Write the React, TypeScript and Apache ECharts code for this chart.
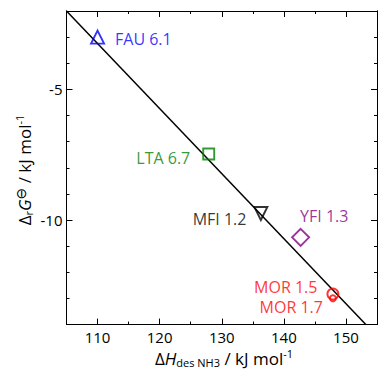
import React, { useEffect, useRef } from "react";
import * as echarts from "echarts";

// ---- data ----
const categories = ["FAU 6.1", "LTA 6.7", "MFI 1.2", "YFI 1.3", "MOR 1.5", "MOR 1.7"];
const dHdes = [110.0, 127.9, 136.3, 142.7, 147.9, 147.9];
const dGr = [-3.0, -7.47, -9.75, -10.66, -12.83, -12.99];
const fitX = [105, 153.2];
const fitY = [-2, -14];
const xTickLabels = [110, 120, 130, 140, 150];
const yTickLabels = [-5, -10];

// ---- styles (not data) ----
const FONT = "'Open Sans', 'Noto Sans', sans-serif";
const markerStyles = [
  { symbol: "triangle", size: 13, rotate: 0, color: "#0000FF", pos: "right", dist: 10, off: [0, 2] },
  { symbol: "rect", size: 11, rotate: 0, color: "#008000", pos: "left", dist: 12, off: [0, 4] },
  { symbol: "triangle", size: 13, rotate: 180, color: "#000000", pos: "left", dist: 7, off: [0, 5] },
  { symbol: "diamond", size: 17, rotate: 0, color: "#800080", pos: "right", dist: 0, off: [-10, -21] },
  { symbol: "circle", size: 11, rotate: 0, color: "#FF0000", pos: "left", dist: 9, off: [0, -7] },
  { symbol: "circle", size: 6, rotate: 0, color: "#FF0000", pos: "left", dist: 6, off: [0, 9] },
];

function xAxisDef(position: string, major: boolean, labels: boolean) {
  return {
    type: "value",
    position,
    min: 105,
    max: 155,
    ...(major ? { splitNumber: 5 } : { interval: 5 }),
    axisLine: { show: true, onZero: false, lineStyle: { color: "#000", width: 1 } },
    axisTick: { show: true, inside: true, length: major ? 6 : 3, lineStyle: { color: "#000", width: 1 } },
    axisLabel: labels
      ? {
          show: true,
          formatter: (v: number) => (xTickLabels.includes(v) ? String(v) : ""),
          fontSize: 15,
          color: "#000",
          fontFamily: FONT,
          margin: 5,
        }
      : { show: false },
    splitLine: { show: false },
  };
}

function yAxisDef(position: string, major: boolean, labels: boolean) {
  return {
    type: "value",
    position,
    min: -14,
    max: -2,
    ...(major ? { splitNumber: 2 } : { interval: 1 }),
    axisLine: { show: true, onZero: false, lineStyle: { color: "#000", width: 1 } },
    axisTick: { show: true, inside: true, length: major ? 6 : 3, lineStyle: { color: "#000", width: 1 } },
    axisLabel: labels
      ? {
          show: true,
          formatter: (v: number) => (yTickLabels.includes(v) ? String(v) : ""),
          fontSize: 15,
          color: "#000",
          fontFamily: FONT,
          margin: 4,
        }
      : { show: false },
    splitLine: { show: false },
  };
}

const richBase = {
  a: { fontSize: 17, fontFamily: FONT, color: "#000", lineHeight: 20, verticalAlign: "middle" },
  i: { fontSize: 17, fontFamily: FONT, fontStyle: "italic", color: "#000", lineHeight: 20, verticalAlign: "middle" },
  sub: { fontSize: 11, fontFamily: FONT, color: "#000", lineHeight: 11, verticalAlign: "bottom" },
  sup: { fontSize: 11, fontFamily: FONT, color: "#000", lineHeight: 11, verticalAlign: "top" },
  sym: { fontSize: 14, fontFamily: "'DejaVu Sans', sans-serif", color: "#000", lineHeight: 12, verticalAlign: "top" },
};

export default function App() {
  const ref = useRef<HTMLDivElement>(null);
  useEffect(() => {
    if (!ref.current) return;
    const chart = echarts.init(ref.current, undefined, { renderer: "svg" });
    const scatterSeries = categories.map((name, i) => {
      const s = markerStyles[i];
      return {
        type: "scatter",
        name,
        xAxisIndex: 0,
        yAxisIndex: 0,
        data: [[dHdes[i], dGr[i]]],
        symbol: s.symbol,
        symbolSize: s.size,
        symbolRotate: s.rotate,
        z: 5,
        itemStyle: { color: "rgba(0,0,0,0)", borderColor: s.color, borderWidth: 1.9 },
        label: {
          show: true,
          formatter: name,
          position: s.pos,
          distance: s.dist,
          offset: s.off,
          color: s.color,
          fontSize: 16,
          lineHeight: 17,
          fontFamily: FONT,
        },
      };
    });
    chart.setOption({
      animation: false,
      grid: { left: 66.5, top: 11, width: 315, height: 313.6, containLabel: false },
      xAxis: [
        xAxisDef("bottom", false, true),
        xAxisDef("bottom", true, false),
        xAxisDef("top", false, false),
        xAxisDef("top", true, false),
      ],
      yAxis: [
        yAxisDef("left", false, true),
        yAxisDef("left", true, false),
        yAxisDef("right", false, false),
        yAxisDef("right", true, false),
      ],
      series: [
        {
          type: "line",
          xAxisIndex: 0,
          yAxisIndex: 0,
          data: fitX.map((x, i) => [x, fitY[i]]),
          symbol: "none",
          lineStyle: { color: "#000", width: 1.5 },
          z: 2,
        },
        ...scatterSeries,
      ],
      graphic: [
        {
          type: "text",
          x: 224,
          y: 358,
          style: {
            text: "{a|Δ}{i|H}{sub|des NH3}{a| / kJ mol}{sup|-1}",
            rich: richBase,
            align: "center",
            verticalAlign: "middle",
          },
        },
        {
          type: "text",
          x: 24,
          y: 170,
          rotation: Math.PI / 2,
          style: {
            text: "{a|Δ}{sub|r}{i|G}{sym|⊖}{a| / kJ mol}{sup|-1}",
            rich: richBase,
            align: "center",
            verticalAlign: "middle",
          },
        },
      ],
    });
    return () => chart.dispose();
  }, []);
  return (
    <div
      ref={ref}
      style={{ position: "absolute", left: 0, top: 0, width: 380, height: 370 }}
    />
  );
}
